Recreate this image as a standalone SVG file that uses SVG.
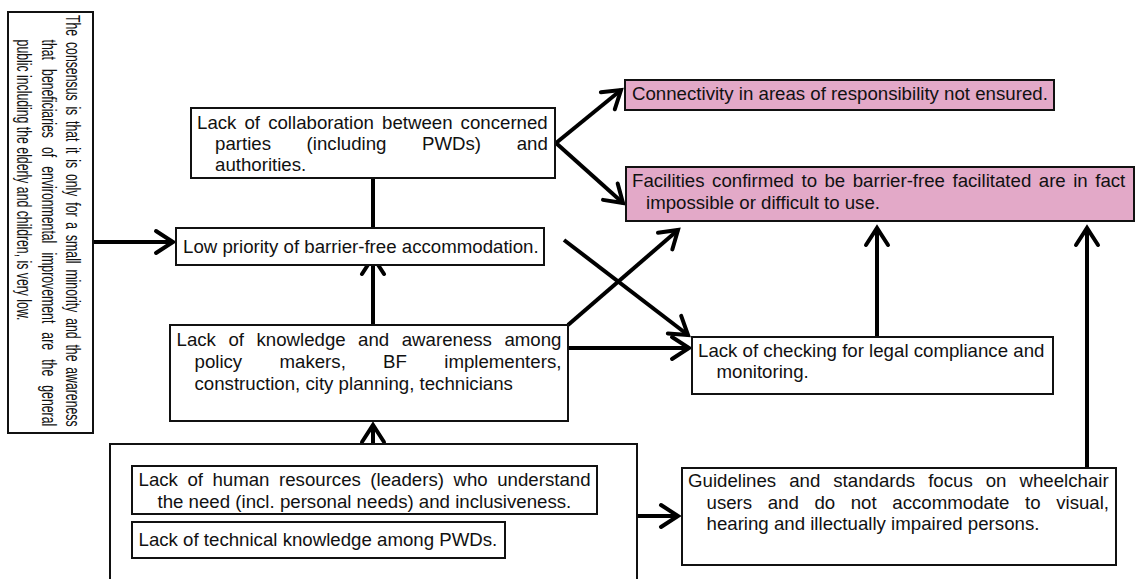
<svg xmlns="http://www.w3.org/2000/svg" width="1136" height="579" viewBox="0 0 1136 579">
  <defs>
    <style>
      .box { fill: #ffffff; stroke: #111; stroke-width: 2; }
      .pink { fill: #E3A9C8; stroke: #111; stroke-width: 2; }
      .t { font-family: "Liberation Sans", Arial, sans-serif; font-size: 18.67px; fill: #111; }
      .tv { font-family: "Liberation Sans", Arial, sans-serif; font-size: 20px; fill: #111; }
      .conn { fill: none; stroke: #000; stroke-width: 4; }
    </style>
    <marker id="arrow" markerUnits="userSpaceOnUse" viewBox="-22 -14 26 28" refX="0" refY="0" markerWidth="26" markerHeight="28" orient="auto">
      <path d="M -17 -11 L 0 0 L -17 11" fill="none" stroke="#000" stroke-width="4" stroke-linecap="round"/>
    </marker>
  </defs>
  <rect width="1136" height="579" fill="#ffffff"/>

  <!-- connectors -->
  <g id="connectors" class="conn">
    <line x1="93" y1="242" x2="173" y2="242" marker-end="url(#arrow)"/>
    <line x1="373" y1="228" x2="373" y2="178"/>
    <line x1="373" y1="325" x2="373" y2="257" marker-end="url(#arrow)"/>
    <line x1="373" y1="444" x2="373" y2="425" marker-end="url(#arrow)"/>
    <line x1="556" y1="143" x2="621" y2="90" marker-end="url(#arrow)"/>
    <line x1="556" y1="143" x2="623" y2="203" marker-end="url(#arrow)"/>
    <line x1="568" y1="325" x2="678" y2="230" marker-end="url(#arrow)"/>
    <line x1="564" y1="240" x2="688" y2="335" marker-end="url(#arrow)"/>
    <line x1="568" y1="348" x2="689" y2="348" marker-end="url(#arrow)"/>
    <line x1="637" y1="516" x2="678" y2="516" marker-end="url(#arrow)"/>
    <line x1="877" y1="337" x2="877" y2="228" marker-end="url(#arrow)"/>
    <line x1="1087" y1="468" x2="1087" y2="228" marker-end="url(#arrow)"/>
  </g>

  <!-- vertical consensus note, set in a narrow face running top to bottom -->
  <g id="consensus">
    <rect class="box" x="8" y="12" width="85" height="421"/>
    <g transform="translate(66,15) rotate(90) scale(0.614,1)">
      <text class="tv" x="0" y="0" word-spacing="3.9">The consensus is that it is only for a small minority and the awareness</text>
      <text class="tv" x="40" y="24.5" word-spacing="9.2">that beneficiaries of environmental improvement are the general</text>
      <text class="tv" x="40" y="49">public including the elderly and children, is very low.</text>
    </g>
  </g>

  <g id="collaboration">
    <rect class="box" x="191" y="108" width="364" height="70"/>
    <text class="t" x="197" y="128.5" word-spacing="2.9">Lack of collaboration between concerned</text>
    <text class="t" x="215" y="150" word-spacing="30.4">parties (including PWDs) and</text>
    <text class="t" x="215" y="171">authorities.</text>
  </g>

  <g id="low-priority">
    <rect class="box" x="176" y="228" width="368" height="37"/>
    <text class="t" x="183" y="253">Low priority of barrier-free accommodation.</text>
  </g>

  <g id="connectivity">
    <rect class="pink" x="625" y="80" width="429" height="30"/>
    <text class="t" x="632" y="100">Connectivity in areas of responsibility not ensured.</text>
  </g>

  <g id="facilities">
    <rect class="pink" x="626" y="167" width="508" height="54"/>
    <text class="t" x="632" y="187" word-spacing="2.3">Facilities confirmed to be barrier-free facilitated are in fact</text>
    <text class="t" x="646" y="209">impossible or difficult to use.</text>
  </g>

  <g id="knowledge">
    <rect class="box" x="170" y="325" width="398" height="96"/>
    <text class="t" x="176.5" y="346" word-spacing="7.3">Lack of knowledge and awareness among</text>
    <text class="t" x="194.5" y="368" word-spacing="32.1">policy makers, BF implementers,</text>
    <text class="t" x="194.5" y="390">construction, city planning, technicians</text>
  </g>

  <g id="checking">
    <rect class="box" x="692" y="337" width="361" height="57"/>
    <text class="t" x="698" y="357">Lack of checking for legal compliance and</text>
    <text class="t" x="716.5" y="378">monitoring.</text>
  </g>

  <g id="capacity">
    <rect class="box" x="110" y="444" width="527" height="150"/>
    <g id="human-resources">
      <rect class="box" x="132" y="466" width="465" height="48"/>
      <text class="t" x="138.5" y="486" word-spacing="4.3">Lack of human resources (leaders) who understand</text>
      <text class="t" x="157.5" y="508">the need (incl. personal needs) and inclusiveness.</text>
    </g>
    <g id="technical">
      <rect class="box" x="132" y="522" width="373" height="36"/>
      <text class="t" x="138.5" y="546">Lack of technical knowledge among PWDs.</text>
    </g>
  </g>

  <g id="guidelines">
    <rect class="box" x="682" y="468" width="434" height="97"/>
    <text class="t" x="688" y="487" word-spacing="7.8">Guidelines and standards focus on wheelchair</text>
    <text class="t" x="706.5" y="509" word-spacing="10.4">users and do not accommodate to visual,</text>
    <text class="t" x="706.5" y="530">hearing and illectually impaired persons.</text>
  </g>
</svg>
